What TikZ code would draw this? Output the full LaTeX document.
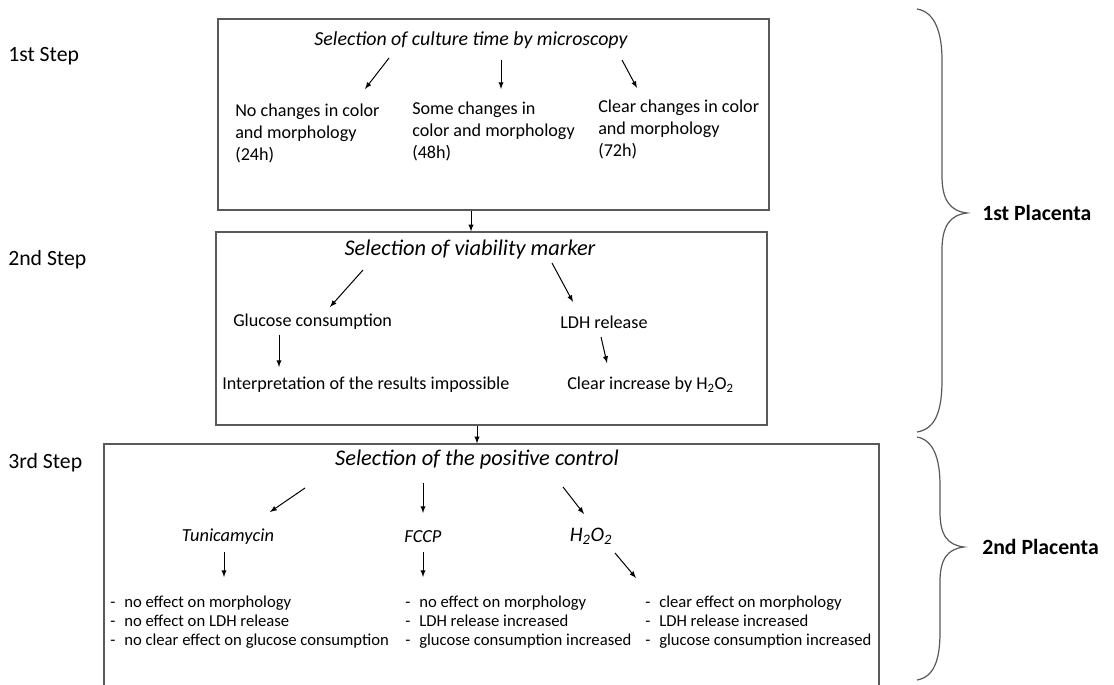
\documentclass[tikz,border=0pt]{standalone}
\usepackage{fontspec}
\setmainfont{Carlito}
\usetikzlibrary{arrows,calc}

\newcommand{\itm}[1]{\makebox[10.5pt][l]{-}#1}

\tikzset{
	box/.style={draw=black!65,line width=0.9pt,rectangle,inner sep=0},
	arr/.style={-latex,line width=0.75pt},
	txt/.style={font=\fontsize{13.6}{16.3}\selectfont,align=left,inner sep=0},
	ttl/.style={font=\fontsize{16.8}{19}\selectfont\itshape,inner sep=0},
	sub/.style={font=\fontsize{13.8}{16}\selectfont\itshape,inner sep=0},
	lst/.style={font=\fontsize{12.5}{14.1}\selectfont,align=left,inner sep=0},
	lbl/.style={font=\fontsize{16.3}{19}\selectfont,inner sep=0,anchor=west}
}

\begin{document}
\begin{tikzpicture}[x=0.75pt,y=-0.75pt]

\useasboundingbox (0,0) rectangle (1114,685);
\clip (0,0) rectangle (1114,685);

% STEP LABELS

\node[lbl] (s1) at (8,56) {1st Step};
\node[lbl] (s2) at (8,260) {2nd Step};
\node[lbl] (s3) at (8,463) {3rd Step};

% FIRST BOX

\node[box,minimum width=413.25pt,minimum height=143.25pt] (box1) at (493.5,114.5) {};
\node[ttl,font=\fontsize{14.9}{17}\selectfont\itshape] (t1) at (471,40) {Selection of culture time by microscopy};
\node[txt,anchor=north west] (a1) at (235,104) {No changes in color\\and morphology\\(24h)};
\node[txt,anchor=north west] (b1) at (412,102) {Some changes in\\color and morphology\\(48h)};
\node[txt,anchor=north west] (c1) at (598,100) {Clear changes in color\\and morphology\\(72h)};
\draw[arr] ($(t1)+(-82,18)$) -- ($(a1.north west)+(130,-15)$);
\draw[arr] ($(t1)+(30,20)$) -- ($(b1.north west)+(89,-13)$);
\draw[arr] ($(t1)+(151,20)$) -- ($(c1.north west)+(39,-12)$);

% SECOND BOX

\node[box,minimum width=413.25pt,minimum height=144.75pt] (box2) at (491.5,328.5) {};
\node[ttl] (t2) at (470,250) {Selection of viability marker};
\node[txt,anchor=west] (g2) at (233,322) {Glucose consumption};
\node[txt,anchor=west] (l2) at (560,322) {LDH release};
\node[txt,anchor=west] (i2) at (222,385) {Interpretation of the results impossible};
\node[txt,anchor=west] (h2) at (567,385) {Clear increase by H\textsubscript{2}O\textsubscript{2}};
\draw[arr] ($(t2)+(-107,20)$) -- ($(g2.west)+(97,-15)$);
\draw[arr] ($(t2)+(82,13)$) -- ($(l2.west)+(13,-20)$);
\draw[arr] ($(g2.west)+(46,13)$) -- ($(i2.west)+(57,-18)$);
\draw[arr] ($(l2.west)+(41,15)$) -- ($(h2.west)+(40,-22)$);

\draw[arr] (box1.south -| t1) -- (box2.north -| t1);

% THIRD BOX

\node[box,minimum width=581.25pt,minimum height=192pt] (box3) at (491.5,572) {};
\node[ttl] (t3) at (477,460) {Selection of the positive control};
\node[sub] (tu) at (228,537) {Tunicamycin};
\node[sub] (fc) at (423,537) {FCCP};
\node[ttl,font=\fontsize{15.5}{18}\selectfont\itshape] (hp) at (591,536) {H\textsubscript{2}O\textsubscript{2}};
\draw[arr] ($(t3)+(-172,28)$) -- ($(tu)+(42,-25)$);
\draw[arr] ($(t3)+(-54,23)$) -- ($(fc)+(0,-24)$);
\draw[arr] ($(t3)+(86,27)$) -- ($(hp)+(-7,-22)$);

\node[lst,anchor=north west] (ll) at (110,596) {\itm{no effect on  morphology}\\\itm{no effect on  LDH release}\\\itm{no clear effect on glucose consumption}};
\node[lst,anchor=north west] (ml) at (405,596) {\itm{no effect on  morphology}\\\itm{LDH release increased}\\\itm{glucose consumption  increased}};
\node[lst,anchor=north west] (rl) at (645,596) {\itm{clear effect on  morphology}\\\itm{LDH release increased}\\\itm{glucose consumption  increased}};
\draw[arr] ($(tu)+(-4,15)$) -- ($(ll.north west)+(114,-19)$);
\draw[arr] ($(fc)+(0,15)$) -- ($(ml.north west)+(18,-19)$);
\draw[arr] ($(hp)+(24,17)$) -- ($(rl.north west)+(-9,-18)$);

\draw[arr] (box2.south -| t3) -- (box3.north -| t3);

% BRACES

\draw[black!65,line width=0.9pt] (917,9) .. controls (936,12) and (942,35) .. (942,60) -- (942,176)
	.. controls (942,200) and (950,211) .. (967,213) .. controls (950,215) and (942,226) .. (942,250)
	-- (942,380) .. controls (942,410) and (936,429) .. (917,432);
\draw[black!65,line width=0.9pt] (917,437) .. controls (934,440) and (940,460) .. (940,485) -- (940,512)
	.. controls (940,536) and (948,545) .. (964,547) .. controls (948,549) and (940,558) .. (940,582)
	-- (940,632) .. controls (940,660) and (934,677) .. (917,680);

\node[lbl,font=\fontsize{16.3}{19}\selectfont\bfseries] (p1) at (982,213) {1st Placenta};
\node[lbl,font=\fontsize{16.3}{19}\selectfont\bfseries] (p2) at (982,547) {2nd Placenta};

\end{tikzpicture}
\end{document}
